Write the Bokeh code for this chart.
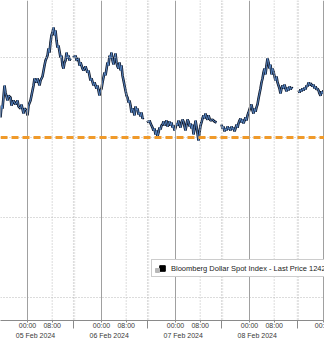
from bokeh.plotting import figure
from bokeh.models import Range1d, LinearAxis, FixedTicker, Span, Legend, LegendItem
from bokeh.embed import file_html
from bokeh.resources import INLINE

nan = float("nan")

# hours since 05 Feb 2024 00:00
hours = [-8.76, -8.43, -8.11, -7.46, -7.14, -6.49, -6.16, -5.51, -5.19, -4.54, -3.89, -3.24, -2.92, -2.27, -1.95, -1.30, -0.97, -0.32,
         0.0, 0.32, 0.97, 1.30, 1.95, 2.27, 2.92, 3.24, 3.89, 4.22, 4.86, 5.51, 5.84, 6.49, 6.81, 7.14, 7.46, 7.78, 8.11, 8.43, 8.76,
         9.08, 9.41, 9.73, 10.05, 10.70, 11.03, 11.35, 11.68, 12.0, 12.32, 12.65, 12.97, 13.30, 13.62, 13.95,
         14.4,
         14.92, 15.24, 15.57, 15.89, 16.54, 16.86, 17.19, 17.84, 18.16, 18.81, 19.46, 19.78, 20.43, 20.76, 21.41, 21.73, 22.38, 22.70,
         23.35, 23.68, 24.0, 24.32, 24.97, 25.30, 25.95, 26.27, 26.59, 26.92, 27.24, 27.57, 27.89, 28.22, 28.54, 28.86, 29.19, 29.51,
         29.84, 30.16, 30.49, 30.81, 31.14, 31.46, 31.78, 32.11, 32.43, 32.76, 33.08, 33.41, 33.73, 34.05, 34.38, 34.70, 35.03, 35.35,
         35.68, 36.0, 36.32, 36.65, 36.97, 37.30, 37.62,
         38.4,
         38.92, 39.24, 39.57, 39.89, 40.22, 40.54, 40.86, 41.19, 41.51, 41.84, 42.16, 42.49, 42.81, 43.14, 43.46, 43.78, 44.11, 44.43,
         44.76, 45.08, 45.41, 45.73, 46.05, 46.38, 46.70, 47.03, 47.35, 47.68, 48.0, 48.32, 48.65, 48.97, 49.30, 49.62, 49.95, 50.27,
         50.59, 50.92, 51.24, 51.57, 51.89, 52.22, 52.54, 52.86, 53.19, 53.51, 53.84, 54.16, 54.49, 54.81, 55.14, 55.46, 55.78, 56.11,
         56.43, 56.76, 57.08, 57.41, 57.73, 58.05, 58.38, 58.70, 59.03, 59.35, 60.0, 60.65, 61.30,
         62.3,
         62.92, 63.24, 63.57, 63.89, 64.22, 64.54, 64.86, 65.19, 65.51, 65.84, 66.16, 66.49, 66.81, 67.14, 67.46, 67.78, 68.11, 68.43,
         68.76, 69.08, 69.41, 69.73, 70.05, 70.38, 70.70, 71.03, 71.35, 71.68, 72.0, 72.32, 72.65, 72.97, 73.30, 73.62, 73.95, 74.27,
         74.59, 74.92, 75.24, 75.57, 75.89, 76.22, 76.54, 76.86, 77.19, 77.51, 77.84, 78.16, 78.49, 78.81, 79.14, 79.46, 79.78, 80.11,
         80.43, 80.76, 81.08, 81.41, 81.73, 82.05, 82.38, 82.70, 83.03, 83.35, 83.68, 84.0, 84.32, 84.65, 84.97, 85.30, 85.62, 85.95,
         86.9,
         87.89, 88.22, 88.54, 88.86, 89.19, 89.51, 89.84, 90.16, 90.49, 90.81, 91.14, 91.46, 91.78, 92.11, 92.43, 92.76, 93.08, 93.41,
         93.73, 94.05, 94.38, 94.70, 95.03, 95.35, 95.68, 96.0, 96.32]

price = [1241.25, 1242.0, 1241.81, 1243.25, 1242.81, 1242.31, 1242.62, 1242.5, 1242.0, 1242.31, 1242.06, 1242.31, 1241.94, 1241.81, 1242.06, 1241.5, 1241.81, 1241.69,
         1241.38, 1242.0, 1242.31, 1242.62, 1243.25, 1243.69, 1243.44, 1243.69, 1243.25, 1243.56, 1243.81, 1244.5, 1244.81, 1245.12, 1245.56, 1245.31, 1245.94, 1246.38, 1246.56, 1246.88, 1246.38,
         1246.69, 1246.06, 1245.62, 1245.75, 1245.0, 1245.12, 1244.5, 1244.31, 1244.69, 1244.81, 1245.31, 1244.94, 1245.12, 1244.81, 1244.94,
         nan,
         1245.12, 1245.0, 1245.12, 1244.81, 1244.94, 1244.5, 1244.69, 1244.31, 1244.19, 1244.44, 1244.06, 1244.19, 1243.56, 1243.69, 1243.25, 1243.44, 1243.06, 1243.25,
         1242.62, 1242.94, 1243.06, 1243.44, 1244.06, 1243.88, 1244.69, 1244.5, 1245.12, 1244.94, 1245.31, 1244.81, 1244.56, 1244.94, 1245.25, 1244.69, 1244.44, 1244.31,
         1244.69, 1244.19, 1244.5, 1243.88, 1243.56, 1243.25, 1242.94, 1242.62, 1242.5, 1242.19, 1242.31, 1242.0, 1241.56, 1241.81, 1241.69, 1241.38, 1241.94, 1241.69,
         1241.81, 1241.44, 1241.56, 1241.31, 1241.56, 1241.19, 1241.25,
         nan,
         1241.06, 1240.94, 1241.06, 1240.88, 1240.75, 1240.62, 1240.44, 1240.56, 1240.19, 1240.44, 1240.06, 1240.31, 1240.62, 1240.5, 1240.75, 1240.81, 1241.0, 1240.75,
         1240.88, 1241.06, 1240.69, 1240.81, 1241.0, 1240.75, 1240.94, 1240.62, 1240.75, 1240.44, 1240.62, 1240.88, 1240.75, 1241.06, 1240.81, 1240.62, 1240.94, 1241.12,
         1241.0, 1240.69, 1240.44, 1240.81, 1241.12, 1241.0, 1240.69, 1240.88, 1240.56, 1240.81, 1240.19, 1240.56, 1241.06, 1240.69, 1240.25, 1239.81, 1240.31, 1240.75,
         1240.94, 1241.19, 1241.38, 1241.19, 1241.5, 1241.25, 1241.12, 1241.38, 1241.19, 1241.06, 1241.12, 1241.0, 1240.94,
         nan,
         1240.81, 1240.56, 1240.69, 1240.38, 1240.56, 1240.44, 1240.69, 1240.5, 1240.62, 1240.44, 1240.69, 1240.5, 1240.62, 1240.38, 1240.56, 1240.81, 1240.62, 1240.88,
         1241.06, 1241.19, 1240.94, 1241.12, 1240.88, 1241.06, 1241.25, 1241.06, 1241.38, 1241.56, 1241.75, 1241.94, 1242.06, 1241.69, 1241.5, 1241.81, 1241.62, 1241.88,
         1242.06, 1242.44, 1242.75, 1243.06, 1243.44, 1243.69, 1244.06, 1244.31, 1243.94, 1244.5, 1244.94, 1244.69, 1244.31, 1244.56, 1243.94, 1244.31, 1244.12, 1243.81,
         1243.56, 1243.81, 1243.44, 1243.25, 1243.06, 1242.75, 1243.06, 1243.25, 1243.06, 1243.31, 1243.06, 1242.88, 1243.12, 1242.94, 1243.19, 1243.0, 1243.12, 1243.06,
         nan,
         1242.94, 1242.81, 1243.0, 1242.88, 1243.06, 1242.94, 1243.12, 1243.0, 1243.25, 1243.19, 1243.44, 1243.25, 1243.38, 1243.31, 1243.19, 1243.31, 1243.06, 1243.19,
         1243.0, 1243.06, 1242.94, 1242.75, 1242.62, 1242.88, 1242.75, 1242.94, 1242.81]

midnights = [0, 24, 48, 72, 96]
mornings = [8, 32, 56, 80]
session_breaks = [14.9, 38.9, 62.9, 87.5]
date_centers = [2.6, 26.5, 50.5, 74.5, 98.5]
date_labels = ["05 Feb 2024", "06 Feb 2024", "07 Feb 2024", "08 Feb 2024", "09 Feb 2024"]
grid_levels = [1230, 1235, 1240, 1245]
ref_level = 1240
last_price = 1242.81
series_name = "Bloomberg Dollar Spot Index - Last Price"

p = figure(frame_width=324, frame_height=320, output_backend="svg", toolbar_location=None,
           x_axis_type=None, y_axis_type=None, min_border=0,
           x_range=Range1d(-8.76, 96.32), y_range=Range1d(1228.5625, 1248.5625))
p.outline_line_color = None
p.xgrid.visible = False
p.ygrid.visible = False
p.background_fill_color = "white"
p.border_fill_color = "white"

for lv in grid_levels:
    p.add_layout(Span(location=lv, dimension="width", line_color="#b8b8b8", line_width=1, line_dash="1 2"))
for m in midnights:
    p.add_layout(Span(location=m, dimension="height", line_color="#a0a0a0", line_width=1))
for m in mornings:
    p.add_layout(Span(location=m, dimension="height", line_color="#b8b8b8", line_width=1, line_dash="1 2"))
for s in session_breaks:
    p.add_layout(Span(location=s, dimension="height", line_color="#b8b8b8", line_width=1, line_dash="1 2"))
    p.add_layout(Span(location=s + 0.4, dimension="height", line_color="#c8c8c8", line_width=1, line_dash="1 2"))

p.add_layout(Span(location=ref_level, dimension="width", line_color="#f09a2a", line_width=3, line_dash="7 4"))

p.line(hours, price, line_color="#111a2c", line_width=2.6)
p.line(hours, price, line_color="#5d8fd0", line_width=0.9)

sq = p.scatter([nan], [nan], marker="square", size=7, fill_color="black", line_color="black")
sq_grey = p.scatter([nan], [nan], marker="square", size=4, fill_color="#b8b8b8", line_color="#b8b8b8")

ax1 = LinearAxis(ticker=FixedTicker(ticks=midnights + mornings, minor_ticks=session_breaks),
                 major_label_overrides={float(t): "00:00" for t in midnights} | {float(t): "08:00" for t in mornings})
ax1.axis_line_color = "#8a8a8a"
ax1.major_tick_line_color = "#8a8a8a"
ax1.major_tick_out = 2
ax1.major_tick_in = 0
ax1.minor_tick_line_color = "#8a8a8a"
ax1.minor_tick_out = 8
ax1.minor_tick_in = 0
ax1.major_label_standoff = -7
ax1.major_label_text_font = "Liberation Sans"
ax1.major_label_text_font_size = "7px"
ax1.major_label_text_color = "#3a3a3a"

ax2 = LinearAxis(ticker=FixedTicker(ticks=date_centers, minor_ticks=[]),
                 major_label_overrides={float(t): l for t, l in zip(date_centers, date_labels)})
ax2.axis_line_color = None
ax2.major_tick_line_color = None
ax2.minor_tick_line_color = None
ax2.major_tick_out = 0
ax2.major_tick_in = 0
ax2.major_label_standoff = 0
ax2.major_label_text_font = "Liberation Sans"
ax2.major_label_text_font_size = "7px"
ax2.major_label_text_color = "#3a3a3a"

p.add_layout(ax1, "below")
p.add_layout(ax2, "below")

legend = Legend(items=[LegendItem(label=f"{series_name} {last_price:.2f}", renderers=[sq])],
                location=(151, 43), orientation="vertical")
legend.label_text_font = "Liberation Sans"
legend.label_text_font_size = "7.5px"
legend.label_text_color = "#222222"
legend.glyph_width = 18
legend.glyph_height = 14
legend.label_standoff = 0
legend.padding = 1
legend.margin = 0
legend.spacing = 0
legend.label_height = 14
legend.border_line_color = "#9a9a9a"
legend.background_fill_color = "white"
legend.background_fill_alpha = 1
p.add_layout(legend)

legend2 = Legend(items=[LegendItem(label="", renderers=[sq_grey])], location=(152, 45.5))
legend2.glyph_width = 10
legend2.glyph_height = 10
legend2.label_height = 10
legend2.label_standoff = 0
legend2.padding = 0
legend2.margin = 0
legend2.spacing = 0
legend2.label_text_font_size = "1px"
legend2.border_line_color = None
legend2.background_fill_alpha = 0
p.add_layout(legend2)

open("out.html", "w").write(file_html(p, INLINE))
